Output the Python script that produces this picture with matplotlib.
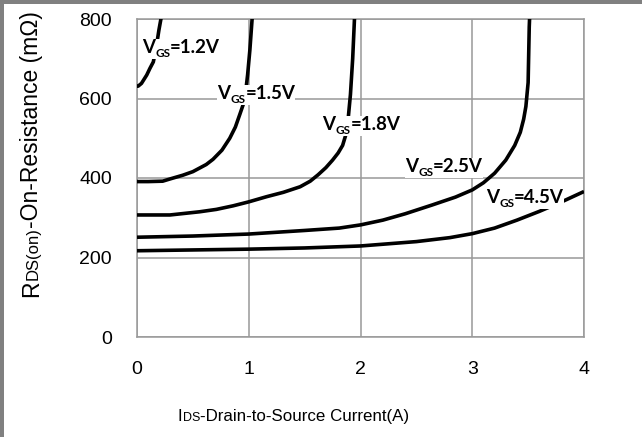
import matplotlib
matplotlib.use("Agg")
import matplotlib.pyplot as plt
from matplotlib.patches import Rectangle
from matplotlib.transforms import offset_copy, IdentityTransform, Bbox

# ---------------- data ----------------
x_ticks = [0, 1, 2, 3, 4]
y_ticks = [0, 200, 400, 600, 800]

vgs12_x = [0.0, 0.01, 0.04, 0.087, 0.116, 0.146, 0.17, 0.196, 0.214, 0.23]
vgs12_y = [631, 631, 638, 659, 676, 692, 725, 772, 800, 830]

vgs15_x = [0.0, 0.1, 0.23, 0.3, 0.41, 0.5, 0.56, 0.62, 0.68, 0.76, 0.83, 0.88, 0.92, 0.964, 0.99, 1.01, 1.03, 1.05]
vgs15_y = [391, 391, 392, 398, 407, 416, 425, 434, 447, 470, 500, 528, 560, 596, 660, 722, 800, 850]

vgs18_x = [0.0, 0.295, 0.56, 0.71, 0.86, 1.0, 1.16, 1.31, 1.46, 1.55, 1.62, 1.69, 1.75, 1.80, 1.84, 1.87, 1.89, 1.91, 1.93, 1.946, 1.96]
vgs18_y = [307, 307, 315, 321, 330, 340, 353, 364, 378, 392, 408, 426, 445, 463, 482, 510, 550, 610, 700, 800, 850]

vgs25_x = [0.0, 0.5, 1.0, 1.5, 1.81, 2.0, 2.2, 2.4, 2.64, 2.85, 3.0, 3.1, 3.2, 3.3, 3.38, 3.43, 3.46, 3.48, 3.5, 3.51, 3.52]
vgs25_y = [251, 254, 259, 268, 274, 282, 294, 310, 332, 352, 370, 388, 412, 445, 482, 515, 548, 580, 640, 780, 850]

vgs45_x = [0.0, 0.5, 1.0, 1.5, 2.0, 2.5, 2.8, 3.0, 3.2, 3.4, 3.6, 3.8, 4.0]
vgs45_y = [217, 219, 221, 224, 229, 240, 250, 260, 274, 294, 316, 340, 366]

series = [(vgs12_x, vgs12_y), (vgs15_x, vgs15_y), (vgs18_x, vgs18_y),
          (vgs25_x, vgs25_y), (vgs45_x, vgs45_y)]

label_values = ["1.2V", "1.5V", "1.8V", "2.5V", "4.5V"]
# label anchor (left, baseline) in data coordinates
label_pos = [(0.045, 714), (0.72, 598), (1.66, 521), (2.40, 415), (3.125, 337)]

# ---------------- figure ----------------
W, H, DPI = 642, 437, 100
fig = plt.figure(figsize=(W / DPI, H / DPI), dpi=DPI, facecolor="white")

# grey outer frame (top and left)
fig.patches.append(Rectangle((0, 1 - 3.5 / H), 1, 3.5 / H, transform=fig.transFigure,
                             facecolor="#808080", edgecolor="none", zorder=0))
fig.patches.append(Rectangle((0, 0), 4 / W, 1, transform=fig.transFigure,
                             facecolor="#808080", edgecolor="none", zorder=0))

left, right, top, bottom = 137, 584, 19, 337
ax = fig.add_axes([left / W, 1 - bottom / H, (right - left) / W, (bottom - top) / H])
ax.set_xlim(0, 4)
ax.set_ylim(0, 800)
ax.set_xticks(x_ticks)
ax.set_yticks(y_ticks)
ax.grid(True, color="#999999", lw=1.1)
ax.set_axisbelow(True)
for s in ax.spines.values():
    s.set_color("#999999")
    s.set_linewidth(1.1)
ax.tick_params(length=0, labelsize=14, colors="black")
ax.tick_params(axis="y", pad=18)
ax.tick_params(axis="x", pad=17)
for lab in ax.get_xticklabels() + ax.get_yticklabels():
    lab.set_family("Liberation Sans")

for xs, ys in series:
    ax.plot(xs, ys, color="black", lw=2.6, solid_capstyle="butt",
            solid_joinstyle="round", zorder=3)

renderer = fig.canvas.get_renderer()


def rich(x, y, pieces, transform, rotation=0, family="Liberation Sans",
         weight="normal", background=False, zorder=5):
    offset = 0.0
    extents = []
    for s, size, dy in pieces:
        if rotation == 0:
            tr = offset_copy(transform, fig=fig, x=offset, y=dy, units="dots")
        else:
            tr = offset_copy(transform, fig=fig, x=-dy, y=offset, units="dots")
        t = fig.text(x, y, s, transform=tr, fontsize=size, family=family,
                     weight=weight, rotation=rotation, rotation_mode="anchor",
                     ha="left", va="baseline", zorder=zorder)
        ext = t.get_window_extent(renderer)
        extents.append(ext)
        offset += ext.width if rotation == 0 else ext.height
    if background:
        bb = Bbox.union(extents)
        fig.patches.append(Rectangle((bb.x0, bb.y0), bb.width, bb.height,
                                     transform=IdentityTransform(),
                                     facecolor="white", edgecolor="none",
                                     zorder=zorder - 0.5))


# axis labels with small "DS" parts
rich(178 / W, (H - 421) / H, [("I", 12.2, 0), ("DS", 9, 0),
                              ("-Drain-to-Source Current(A)", 12.2, 0)],
     fig.transFigure)
rich(38 / W, (H - 297) / H, [("R", 16.5, 0), ("DS(on)", 12, 0),
                             ("-On-Resistance (mΩ)", 16.5, 0)],
     fig.transFigure, rotation=90)

# curve labels
for val, (lx, ly) in zip(label_values, label_pos):
    rich(lx, ly, [("V", 13.5, 0), ("GS", 8.5, -4), ("=" + val, 13.5, 0)],
         ax.transData, family="Lato", weight="bold", background=True, zorder=6)

fig.savefig("out.png", dpi=DPI, facecolor="white")
